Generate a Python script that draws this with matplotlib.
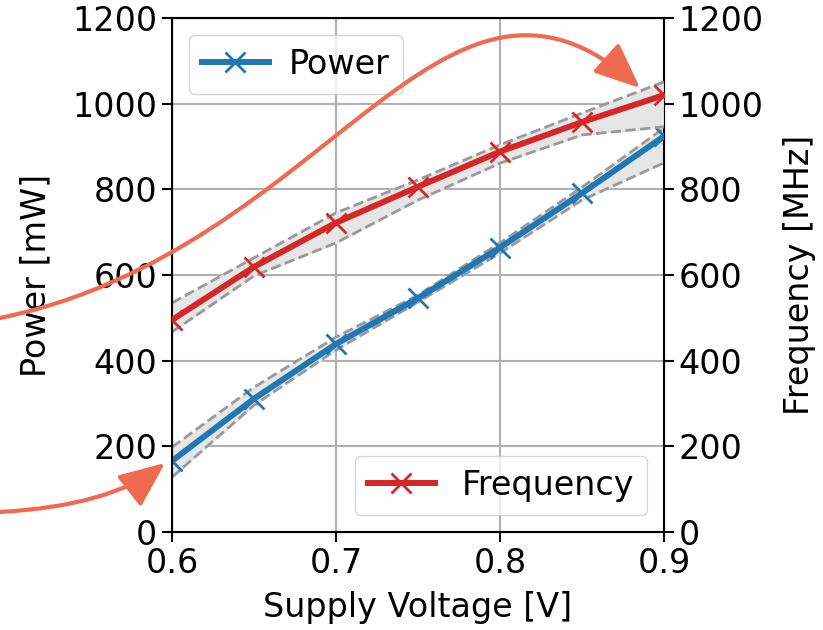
import numpy as np
import matplotlib
matplotlib.use("Agg")
import matplotlib.pyplot as plt
from matplotlib.patches import FancyArrowPatch
from matplotlib.path import Path

voltage = [0.6, 0.65, 0.7, 0.75, 0.8, 0.85, 0.9]
power = [166, 311, 439, 546, 664, 791, 924]
power_hi = [198, 338, 455, 553, 675, 805, 943]
power_lo = [128, 296, 425, 537, 651, 775, 862]
freq = [495, 619, 722, 806, 888, 957, 1020]
freq_hi = [535, 640, 745, 822, 904, 978, 1051]
freq_lo = [467, 598, 675, 775, 861, 927, 946]
yticks = [0, 200, 400, 600, 800, 1000, 1200]
xticks = [0.6, 0.7, 0.8, 0.9]

plt.rcParams['font.size'] = 24
W, H = 823, 630
fig = plt.figure(figsize=(W / 100, H / 100), dpi=100)
ax = fig.add_axes([172 / W, 1 - 532 / H, (664 - 172) / W, (532 - 18) / H])
ax2 = ax.twinx()

band = '#e6e6e6'
edge = '#999999'
for a, hi, lo in [(ax, power_hi, power_lo), (ax2, freq_hi, freq_lo)]:
    a.fill_between(voltage, lo, hi, color=band, zorder=1)
    a.plot(voltage, hi, '--', color=edge, lw=2, zorder=2)
    a.plot(voltage, lo, '--', color=edge, lw=2, zorder=2)

ax.plot(voltage, power, '-x', color='#1f77b4', lw=4.3, ms=15, mew=2, label='Power', zorder=3)
ax2.plot(voltage, freq, '-x', color='#d62728', lw=4.3, ms=15, mew=2, label='Frequency', zorder=3)

for a in (ax, ax2):
    a.set_ylim(0, 1200)
    a.set_yticks(yticks)
ax.set_xlim(0.6, 0.9)
ax.set_xticks(xticks)
ax.grid(True, color='#b0b0b0', lw=1.5)
ax.set_axisbelow(True)
ax.tick_params(length=7, width=1.5)
ax2.tick_params(length=7, width=1.5)
for s in ax.spines.values():
    s.set_linewidth(1.5)

ax.set_xlabel('Supply Voltage [V]', labelpad=8)
ax.set_ylabel('Power [mW]', labelpad=14)
ax2.set_ylabel('Frequency [MHz]', labelpad=14)

ax.legend(loc='upper left', handlelength=2.0, handletextpad=0.6,
          fancybox=True, framealpha=0.8)
ax2.legend(loc='lower right', handlelength=2.0, handletextpad=0.8,
           fancybox=True, framealpha=0.8)


def fpt(x, y):
    return (x / W, 1 - y / H)


arrow_color = '#ee6a50'
upper = Path([fpt(0, 318), fpt(330, 250), fpt(440, -90), fpt(640, 88)],
             [Path.MOVETO, Path.CURVE4, Path.CURVE4, Path.CURVE4])
lower = Path([fpt(0, 512), fpt(110, 506), fpt(165, 463)],
             [Path.MOVETO, Path.CURVE3, Path.CURVE3])
for p in (upper, lower):
    arr = FancyArrowPatch(path=p, transform=fig.transFigure,
                          arrowstyle='-|>,head_length=1.4,head_width=0.6',
                          mutation_scale=20, lw=3, color=arrow_color, zorder=10)
    fig.patches.append(arr)

fig.savefig('out.png', dpi=100)
